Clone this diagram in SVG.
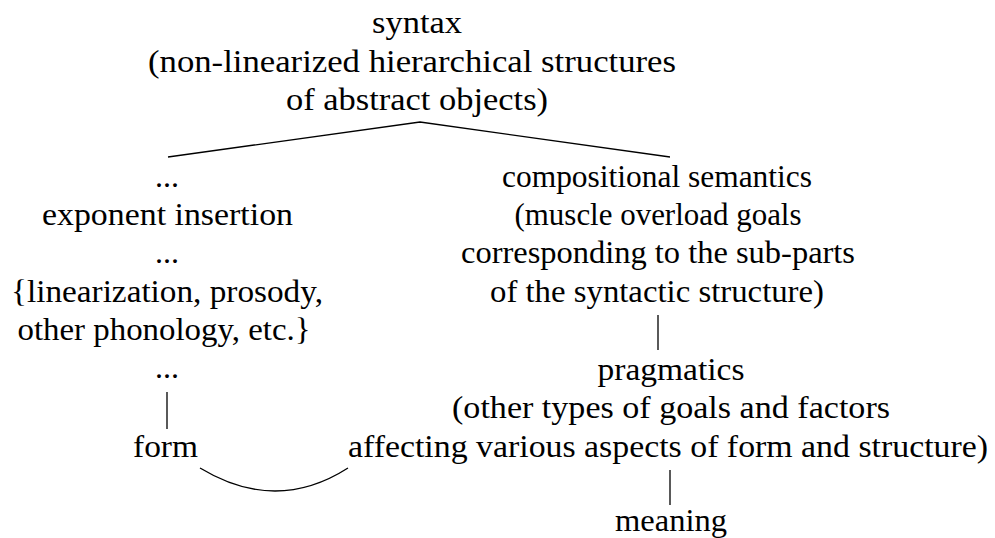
<svg xmlns="http://www.w3.org/2000/svg" width="995" height="538" viewBox="0 0 995 538">
<style>
text{font-family:"Liberation Serif","DejaVu Serif","Noto Serif",serif;font-size:32px;fill:#000;text-anchor:middle}
.c{stroke:#000;stroke-width:1.3;fill:none}
</style>
<rect width="995" height="538" fill="#fff"/>
<g id="syntax">
<text x="417" y="33" textLength="90" lengthAdjust="spacingAndGlyphs">syntax</text>
<text x="412" y="72" textLength="528" lengthAdjust="spacingAndGlyphs">(non-linearized hierarchical structures</text>
<text x="417" y="110" textLength="262" lengthAdjust="spacingAndGlyphs">of abstract objects)</text>
</g>
<g id="phonology">
<text x="167" y="187">...</text>
<text x="167.5" y="225" textLength="251" lengthAdjust="spacingAndGlyphs">exponent insertion</text>
<text x="167" y="263">...</text>
<text x="167" y="302" textLength="312" lengthAdjust="spacingAndGlyphs">{linearization, prosody,</text>
<text x="164" y="340" textLength="293" lengthAdjust="spacingAndGlyphs">other phonology, etc.}</text>
<text x="167" y="378">...</text>
</g>
<g id="form">
<text x="165.5" y="457" textLength="65" lengthAdjust="spacingAndGlyphs">form</text>
</g>
<g id="semantics">
<text x="657" y="187" textLength="310" lengthAdjust="spacingAndGlyphs">compositional semantics</text>
<text x="658" y="225" textLength="287" lengthAdjust="spacingAndGlyphs">(muscle overload goals</text>
<text x="658" y="263" textLength="394" lengthAdjust="spacingAndGlyphs">corresponding to the sub-parts</text>
<text x="657" y="302" textLength="334" lengthAdjust="spacingAndGlyphs">of the syntactic structure)</text>
</g>
<g id="pragmatics">
<text x="671" y="380" textLength="147" lengthAdjust="spacingAndGlyphs">pragmatics</text>
<text x="671" y="418" textLength="438" lengthAdjust="spacingAndGlyphs">(other types of goals and factors</text>
<text x="668" y="457" textLength="640" lengthAdjust="spacingAndGlyphs">affecting various aspects of form and structure)</text>
</g>
<g id="meaning">
<text x="671" y="531" textLength="112" lengthAdjust="spacingAndGlyphs">meaning</text>
</g>
<g id="connectors">
<path class="c" d="M168 157 L420 122 L670 157"/>
<path class="c" d="M167 392 L167 429"/>
<path class="c" d="M658 315 L658 350"/>
<path class="c" d="M670 470 L670 505"/>
<path class="c" d="M200 468 Q276 514 348 468"/>
</g>
</svg>
